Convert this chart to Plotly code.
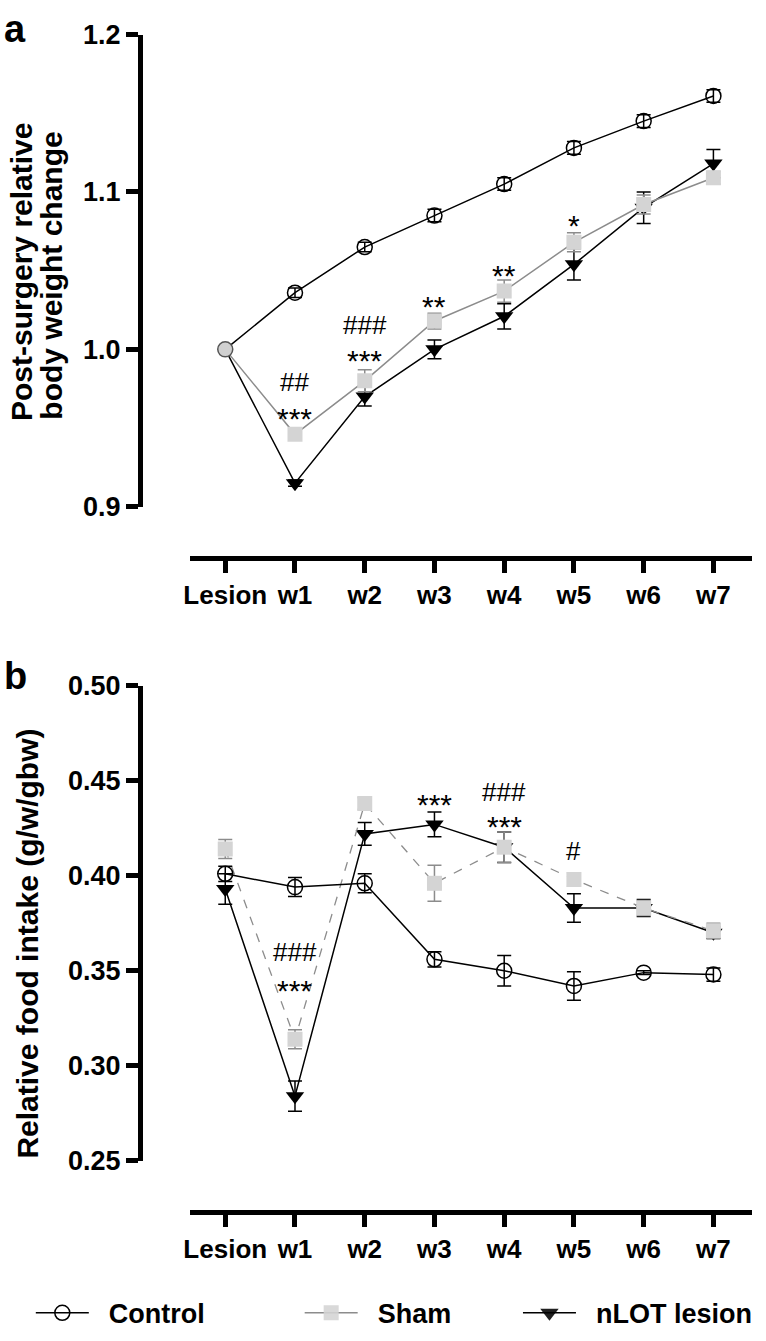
import plotly.graph_objects as go

weeks = ["Lesion", "w1", "w2", "w3", "w4", "w5", "w6", "w7"]

# panel a - post-surgery relative body weight change
bw_control = [1.000, 1.036, 1.065, 1.085, 1.105, 1.128, 1.145, 1.161]
bw_control_err = [0, 0.003, 0.003, 0.004, 0.004, 0.004, 0.004, 0.004]
bw_sham = [1.000, 0.946, 0.980, 1.018, 1.037, 1.068, 1.092, 1.109]
bw_sham_err = [0, 0.003, 0.007, 0.005, 0.007, 0.006, 0.006, 0.004]
bw_lesion = [1.000, 0.915, 0.970, 1.000, 1.021, 1.054, 1.090, 1.118]
bw_lesion_err = [0, 0.002, 0.006, 0.006, 0.008, 0.010, 0.010, 0.009]

# panel b - relative food intake (g/w/gbw)
fi_control = [0.401, 0.394, 0.396, 0.356, 0.350, 0.342, 0.349, 0.348]
fi_control_err = [0.004, 0.005, 0.005, 0.004, 0.008, 0.0075, 0.001, 0.0035]
fi_sham = [0.414, 0.314, 0.438, 0.396, 0.415, 0.398, 0.383, 0.371]
fi_sham_err = [0.005, 0.005, 0.003, 0.0095, 0.008, 0.0035, 0.004, 0.004]
fi_lesion = [0.393, 0.284, 0.422, 0.427, 0.415, 0.383, 0.383, 0.370]
fi_lesion_err = [0.008, 0.008, 0.006, 0.0065, 0.008, 0.0075, 0.0045, 0.003]

W, H = 766, 1341
FONT = "Liberation Sans, Arial, sans-serif"
GREY = "#8c8c8c"
SQ = "#d4d4d4"
PAD = "\u00a0\u00a0"  # extra gap between legend swatch and label


def px(x):
    return x / W


def py(y):
    return 1 - y / H


def err(arr, color):
    return dict(type="data", array=arr, color=color, thickness=1.5, width=7)


fig = go.Figure()

# ---- panel a ----
# points are fed w7 -> Lesion so the legend swatch picks a normal marker;
# the shared Lesion point is shown only as the grey control circle
rev = slice(None, None, -1)
hide_first = [1] * 7 + [0]
fig.add_trace(go.Scatter(
    x=weeks[rev], y=bw_lesion[rev], error_y=err(bw_lesion_err[rev], "black"),
    mode="lines+markers", name=PAD + "nLOT lesion", legend="legend3",
    line=dict(color="black", width=1.5),
    marker=dict(symbol="triangle-down", size=16, color="black",
                opacity=hide_first),
    xaxis="x", yaxis="y",
))
fig.add_trace(go.Scatter(
    x=weeks[rev], y=bw_sham[rev], error_y=err(bw_sham_err[rev], GREY),
    mode="lines+markers", name=PAD + "Sham", legend="legend2",
    line=dict(color=GREY, width=1.5),
    marker=dict(symbol="square", size=15, color=SQ, opacity=hide_first),
    xaxis="x", yaxis="y",
))
fig.add_trace(go.Scatter(
    x=weeks[rev], y=bw_control[rev], error_y=err(bw_control_err[rev], "black"),
    mode="lines+markers", name=PAD + "Control", legend="legend",
    line=dict(color="black", width=1.5),
    marker=dict(symbol="circle", size=15,
                color=["rgba(0,0,0,0)"] * 7 + ["#d0d0d0"],
                line=dict(color=["black"] * 7 + ["#555555"], width=1.5)),
    xaxis="x", yaxis="y",
))

# ---- panel b ----
fig.add_trace(go.Scatter(
    x=weeks, y=fi_lesion, error_y=err(fi_lesion_err, "black"),
    mode="lines+markers", name="nLOT lesion", showlegend=False,
    line=dict(color="black", width=1.5),
    marker=dict(symbol="triangle-down", size=16, color="black"),
    xaxis="x2", yaxis="y2",
))
fig.add_trace(go.Scatter(
    x=weeks, y=fi_sham, error_y=err(fi_sham_err, GREY),
    mode="lines+markers", name="Sham", showlegend=False,
    line=dict(color=GREY, width=1.3, dash="dash"),
    marker=dict(symbol="square", size=15, color=SQ),
    xaxis="x2", yaxis="y2",
))
fig.add_trace(go.Scatter(
    x=weeks, y=fi_control, error_y=err(fi_control_err, "black"),
    mode="lines+markers", name="Control", showlegend=False,
    line=dict(color="black", width=1.5),
    marker=dict(symbol="circle", size=15, color="rgba(0,0,0,0)",
                line=dict(color="black", width=1.5)),
    xaxis="x2", yaxis="y2",
))

xdom = [px(185), px(752)]
xrange = [-0.512, 7.555]
common_x = dict(
    domain=xdom, range=xrange, type="category",
    categoryorder="array", categoryarray=weeks,
    anchor="free", showline=True, linewidth=5, linecolor="black",
    ticks="outside", ticklen=12, tickwidth=5, tickcolor="black",
    tickfont=dict(family=FONT, size=26, color="black", weight="bold"),
    showgrid=False, zeroline=False,
)
common_y = dict(
    anchor="free", position=px(135), showline=True, linewidth=5,
    linecolor="black", ticks="outside", ticklen=12, tickwidth=5,
    tickcolor="black",
    tickfont=dict(family=FONT, size=27, color="black", weight="bold"),
    showgrid=False, zeroline=False,
)


def legend_at(x):
    return dict(orientation="h", x=px(x), y=py(1328), yanchor="middle",
                xanchor="left", itemwidth=53, bgcolor="rgba(0,0,0,0)",
                font=dict(family=FONT, size=27, color="black", weight="bold"))


fig.update_layout(
    width=W, height=H,
    margin=dict(l=0, r=0, t=0, b=0),
    paper_bgcolor="white", plot_bgcolor="rgba(0,0,0,0)",
    xaxis=dict(common_x, position=py(555)),
    yaxis=dict(common_y, domain=[py(503), py(20)], range=[0.9, 1.2],
               tickvals=[0.9, 1.0, 1.1, 1.2], tickformat=".1f"),
    xaxis2=dict(common_x, position=py(1224)),
    yaxis2=dict(common_y, domain=[py(1172), py(686)], range=[0.25, 0.50],
                tickvals=[0.25, 0.30, 0.35, 0.40, 0.45, 0.50],
                tickformat=".2f"),
    legend=legend_at(25),
    legend2=legend_at(296),
    legend3=legend_at(516),
)

ann = []
# panel letters
for letter, yc in (("a", 14), ("b", 676)):
    ann.append(dict(text="<b>%s</b>" % letter, x=0, y=py(yc),
                    xref="paper", yref="paper", xanchor="left",
                    yanchor="middle", xshift=-4, showarrow=False,
                    font=dict(family=FONT, size=38, color="black")))
# axis titles (one annotation per line to keep the tight line spacing)
for txt, xc, yc in (("Post-surgery relative", 15, 263),
                    ("body weight change", 45, 267)):
    ann.append(dict(text="<b>%s</b>" % txt, x=px(xc), y=py(yc),
                    xref="paper", yref="paper", xanchor="center",
                    yanchor="middle", textangle=-90, showarrow=False,
                    font=dict(family=FONT, size=30, color="black")))
ann.append(dict(text="<b>Relative food intake (g/w/gbw)</b>",
                x=px(22), y=py(950), xref="paper", yref="paper",
                xanchor="center", yanchor="middle",
                textangle=-90, showarrow=False,
                font=dict(family=FONT, size=30, color="black")))

# significance marks
sig = [
    ("x", "y", "w1", "##", 0.9795), ("x", "y", "w1", "***", 0.9609),
    ("x", "y", "w2", "###", 1.0155), ("x", "y", "w2", "***", 0.9981),
    ("x", "y", "w3", "**", 1.0323), ("x", "y", "w4", "**", 1.0522),
    ("x", "y", "w5", "*", 1.0839),
    ("x2", "y2", "w1", "###", 0.3601), ("x2", "y2", "w1", "***", 0.3436),
    ("x2", "y2", "w3", "***", 0.4419),
    ("x2", "y2", "w4", "###", 0.4439), ("x2", "y2", "w4", "***", 0.4300),
    ("x2", "y2", "w5", "#", 0.4131),
]
for xr, yr, wk, txt, yv in sig:
    star = txt.startswith("*")
    ann.append(dict(text=txt, x=wk, y=yv, xref=xr, yref=yr, showarrow=False,
                    xanchor="center", yanchor="middle",
                    yshift=-8 if star else 0,
                    font=dict(family=FONT, size=30 if star else 26,
                              color="black")))

fig.update_layout(annotations=ann)

# drop the browser's default 8px body margin so the figure sits at 0,0
fig.write_html("out.html", config={"displayModeBar": False},
               post_script="document.body.style.margin='0';")
